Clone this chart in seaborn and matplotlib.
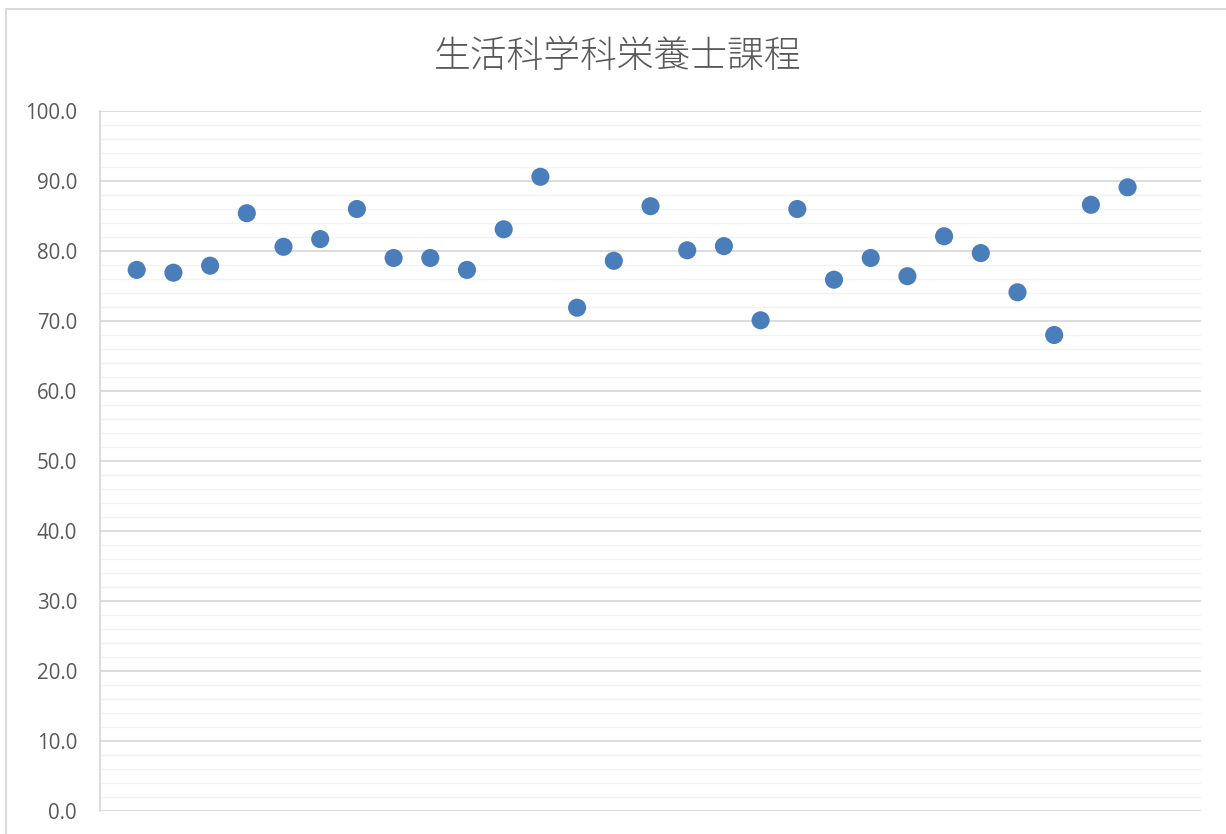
import matplotlib
matplotlib.use("Agg")
import matplotlib.pyplot as plt
import seaborn as sns
import pandas as pd
import numpy as np
from matplotlib.patches import Rectangle

title = "生活科学科栄養士課程"
index = list(range(1, 29))
values = [77.3, 76.9, 77.9, 85.4, 80.6, 81.7, 86.0, 79.0, 79.0, 77.3,
          83.1, 90.6, 71.9, 78.6, 86.4, 80.1, 80.7, 70.1, 86.0, 75.9,
          79.0, 76.4, 82.1, 79.7, 74.1, 68.0, 86.6, 89.1]
yticks = [0, 10, 20, 30, 40, 50, 60, 70, 80, 90, 100]

df = pd.DataFrame({"n": index, "score": values})

sns.set_theme(style="white")
plt.rcParams['font.family'] = ['Noto Sans CJK JP', 'DejaVu Sans']

fig = plt.figure(figsize=(12.26, 8.34), dpi=100)
W, H = 1226, 834
ax = fig.add_axes([100 / W, 1 - 811 / H, (1201 - 100) / W, (811 - 111) / H])

# figure border (left & top visible)
fig.patches.append(Rectangle((6 / W, -0.1), 1.2, 1 - 9 / H + 0.1, transform=fig.transFigure,
                             fill=False, edgecolor="#d9d9d9", linewidth=1.5))

# grid
for v in np.arange(0, 101, 2):
    if v % 10 == 0:
        ax.axhline(v, color="#d9d9d9", linewidth=1.3, zorder=1)
    else:
        ax.axhline(v, color="#f2f2f2", linewidth=1.0, zorder=0.5)

sns.scatterplot(data=df, x="n", y="score", ax=ax, s=170, color="#4A7EBB",
                edgecolor="none", zorder=3, legend=False)

ax.set_xlim(0, 30)
ax.set_ylim(0, 100)
ax.set_yticks(yticks)
ax.set_yticklabels([f"{v:.1f}" for v in yticks], fontsize=14.8, color="#595959",
                   family=["Open Sans", "DejaVu Sans"])
ax.set_xticks([])
ax.set_xlabel("")
ax.set_ylabel("")
ax.tick_params(axis="y", length=0, pad=16.5)
for s in ["top", "right", "bottom"]:
    ax.spines[s].set_visible(False)
ax.spines["left"].set_color("#d9d9d9")
ax.spines["left"].set_linewidth(1.3)

fig.text(618 / W, 1 - 57 / H, title, ha="center", va="center", fontsize=26.5,
         color="#595959", fontweight=300)

fig.savefig("out.png", dpi=100, facecolor="white")
